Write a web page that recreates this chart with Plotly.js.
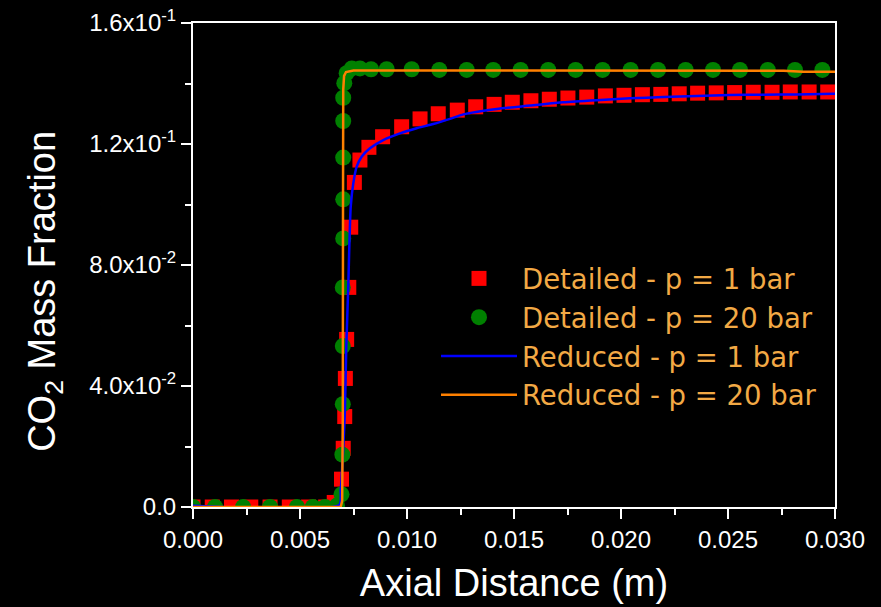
<!DOCTYPE html>
<html>
<head>
<meta charset="utf-8">
<script src="https://cdn.plot.ly/plotly-3.0.1.min.js"></script>
<style>html,body{margin:0;padding:0;background:#000;}#chart{width:881px;height:607px;}</style>
</head>
<body>
<div id="chart"></div>
<script>
// Detailed - p = 1 bar (red squares)
const detP1X = [0, 0.0009, 0.0018, 0.0027, 0.0036, 0.0045, 0.0054, 0.0062, 0.0066, 0.00694, 0.00702, 0.00709, 0.00712, 0.00718, 0.00728, 0.00737, 0.00754, 0.00780, 0.00822, 0.00886, 0.00975, 0.01061, 0.01146,
  0.01235, 0.01321, 0.01407, 0.01492, 0.01579, 0.01665, 0.01752, 0.01840, 0.01927, 0.02014, 0.02100, 0.02186, 0.02272, 0.02358, 0.02445, 0.02531, 0.02618, 0.02706, 0.02791, 0.02879, 0.02966];
const detP1Y = [0, 0, 0, 0, 0, 0, 0, 0, 0.0015, 0.0092, 0.0194, 0.0299, 0.0425, 0.0554, 0.0726, 0.0925, 0.1073, 0.1147, 0.1189, 0.1224, 0.1257, 0.1283, 0.1300,
  0.1312, 0.1323, 0.1331, 0.1338, 0.1343, 0.1348, 0.1352, 0.1355, 0.1359, 0.1361, 0.1363, 0.1364, 0.1366, 0.1368, 0.1369, 0.1370, 0.1371, 0.1371, 0.1372, 0.1372, 0.1372];

// Detailed - p = 20 bar (green circles)
const detP20X = [0, 0.00103, 0.00234, 0.0036, 0.00486, 0.0056, 0.00617, 0.00673,
  0.00694, 0.00698, 0.00700, 0.00700, 0.00700, 0.00702, 0.00702, 0.00702, 0.00702, 0.00702,
  0.00707, 0.00718, 0.00742, 0.00780, 0.00832, 0.00905, 0.01022,
  0.01151, 0.01279, 0.01403, 0.01531, 0.01660, 0.01788, 0.01914, 0.02045, 0.02173, 0.02302, 0.02430, 0.02556, 0.02686, 0.02813, 0.02941];
const detP20Y = [0, 0, 0, 0, 0, 0, 0, 0.0005,
  0.0042, 0.0173, 0.0340, 0.0532, 0.0726, 0.0888, 0.1017, 0.1155, 0.1276, 0.1353,
  0.1401, 0.1434, 0.1450, 0.1450, 0.1447, 0.1447, 0.1447,
  0.1445, 0.1445, 0.1445, 0.1445, 0.1445, 0.1445, 0.1445, 0.1445, 0.1445, 0.1445, 0.1445, 0.1445, 0.1445, 0.1445, 0.1445];

// Reduced - p = 1 bar (blue line)
const redP1X = [0, 0.00684, 0.00690, 0.00693, 0.00709, 0.00716, 0.00726, 0.00730, 0.00737, 0.00749, 0.00765, 0.00788, 0.00827, 0.00889, 0.00967, 0.01045, 0.01123, 0.01201, 0.01263, 0.01419, 0.01575, 0.01730, 0.01886, 0.02042, 0.02198, 0.02354, 0.02509, 0.02665, 0.02821, 0.03];
const redP1Y = [0.0004, 0.0007, 0.0056, 0.0078, 0.0299, 0.0519, 0.0740, 0.0850, 0.0993, 0.1070, 0.1125, 0.1158, 0.1186, 0.1213, 0.1235, 0.1252, 0.1266, 0.1283, 0.1298, 0.1316, 0.1327, 0.1338, 0.1345, 0.1351, 0.1355, 0.1359, 0.1362, 0.1363, 0.1364, 0.1366];

// Reduced - p = 20 bar (orange line)
const redP20X = [0, 0.00690, 0.00697, 0.00700, 0.00701, 0.00702, 0.00706, 0.00715, 0.0075, 0.015, 0.025, 0.0276, 0.0285, 0.030];
const redP20Y = [0, 0, 0.002, 0.03, 0.10, 0.138, 0.1425, 0.1438, 0.1443, 0.1443, 0.1442, 0.1442, 0.1439, 0.1439];

const yTickVals = [0, 0.04, 0.08, 0.12, 0.16];
const yTickText = ['0.0', '4.0x10<sup>-2</sup>', '8.0x10<sup>-2</sup>', '1.2x10<sup>-1</sup>', '1.6x10<sup>-1</sup>'];

const FONT = 'Liberation Sans, Arial, Helvetica, sans-serif';
const LEGEND_FONT = 'DejaVu Sans, Liberation Sans, Arial, sans-serif';

const traces = [
  {x: detP1X, y: detP1Y, type: 'scatter', mode: 'markers', name: 'Detailed - p = 1 bar',
   marker: {symbol: 'square', size: 15, color: '#FF0000'}},
  {x: detP20X, y: detP20Y, type: 'scatter', mode: 'markers', name: 'Detailed - p = 20 bar',
   marker: {symbol: 'circle', size: 16, color: '#008000'}},
  {x: redP1X, y: redP1Y, type: 'scatter', mode: 'lines', name: 'Reduced - p = 1 bar',
   line: {color: '#0000FF', width: 2.5, shape: 'spline', smoothing: 0.6}},
  {x: redP20X, y: redP20Y, type: 'scatter', mode: 'lines', name: 'Reduced - p = 20 bar',
   line: {color: '#FF8000', width: 2.5}}
];

const layout = {
  width: 881, height: 607,
  paper_bgcolor: '#000', plot_bgcolor: '#000',
  margin: {l: 193, r: 46, t: 23, b: 100},
  font: {family: FONT, color: '#FFFFFF', size: 24},
  showlegend: true,
  legend: {x: 0.3785, y: 0.5227, xanchor: 'left', yanchor: 'top', bgcolor: 'rgba(0,0,0,0)',
    font: {family: LEGEND_FONT, size: 27.5, color: '#F2A945'}, itemwidth: 76, tracegroupgap: 0},
  xaxis: {
    range: [0, 0.030], dtick: 0.005, tick0: 0, tickformat: '.3f',
    showgrid: false, zeroline: false, showline: true, linecolor: '#FFFFFF', linewidth: 2, mirror: true,
    ticks: 'outside', ticklen: 10, tickwidth: 2, tickcolor: '#FFFFFF',
    minor: {ticks: 'outside', ticklen: 6, tickwidth: 2, tickcolor: '#FFFFFF', dtick: 0.0025, showgrid: false},
    tickfont: {family: FONT, size: 24, color: '#FFFFFF'},
    title: {text: 'Axial Distance (m)', font: {family: FONT, size: 38, color: '#FFFFFF'}, standoff: 18}
  },
  yaxis: {
    range: [0, 0.16], tickmode: 'array', tickvals: yTickVals, ticktext: yTickText,
    showgrid: false, zeroline: false, showline: true, linecolor: '#FFFFFF', linewidth: 2, mirror: true,
    ticks: 'outside', ticklen: 10, tickwidth: 2, tickcolor: '#FFFFFF',
    minor: {ticks: 'outside', ticklen: 6, tickwidth: 2, tickcolor: '#FFFFFF', tickvals: [0.02, 0.06, 0.10, 0.14], showgrid: false},
    tickfont: {family: FONT, size: 24, color: '#FFFFFF'},
    title: {text: 'CO<sub>2</sub> Mass Fraction&nbsp;&nbsp;&nbsp;&nbsp;&nbsp;', font: {family: FONT, size: 38, color: '#FFFFFF'}, standoff: 22}
  }
};

Plotly.newPlot('chart', traces, layout, {displayModeBar: false, staticPlot: true});
</script>
</body>
</html>
